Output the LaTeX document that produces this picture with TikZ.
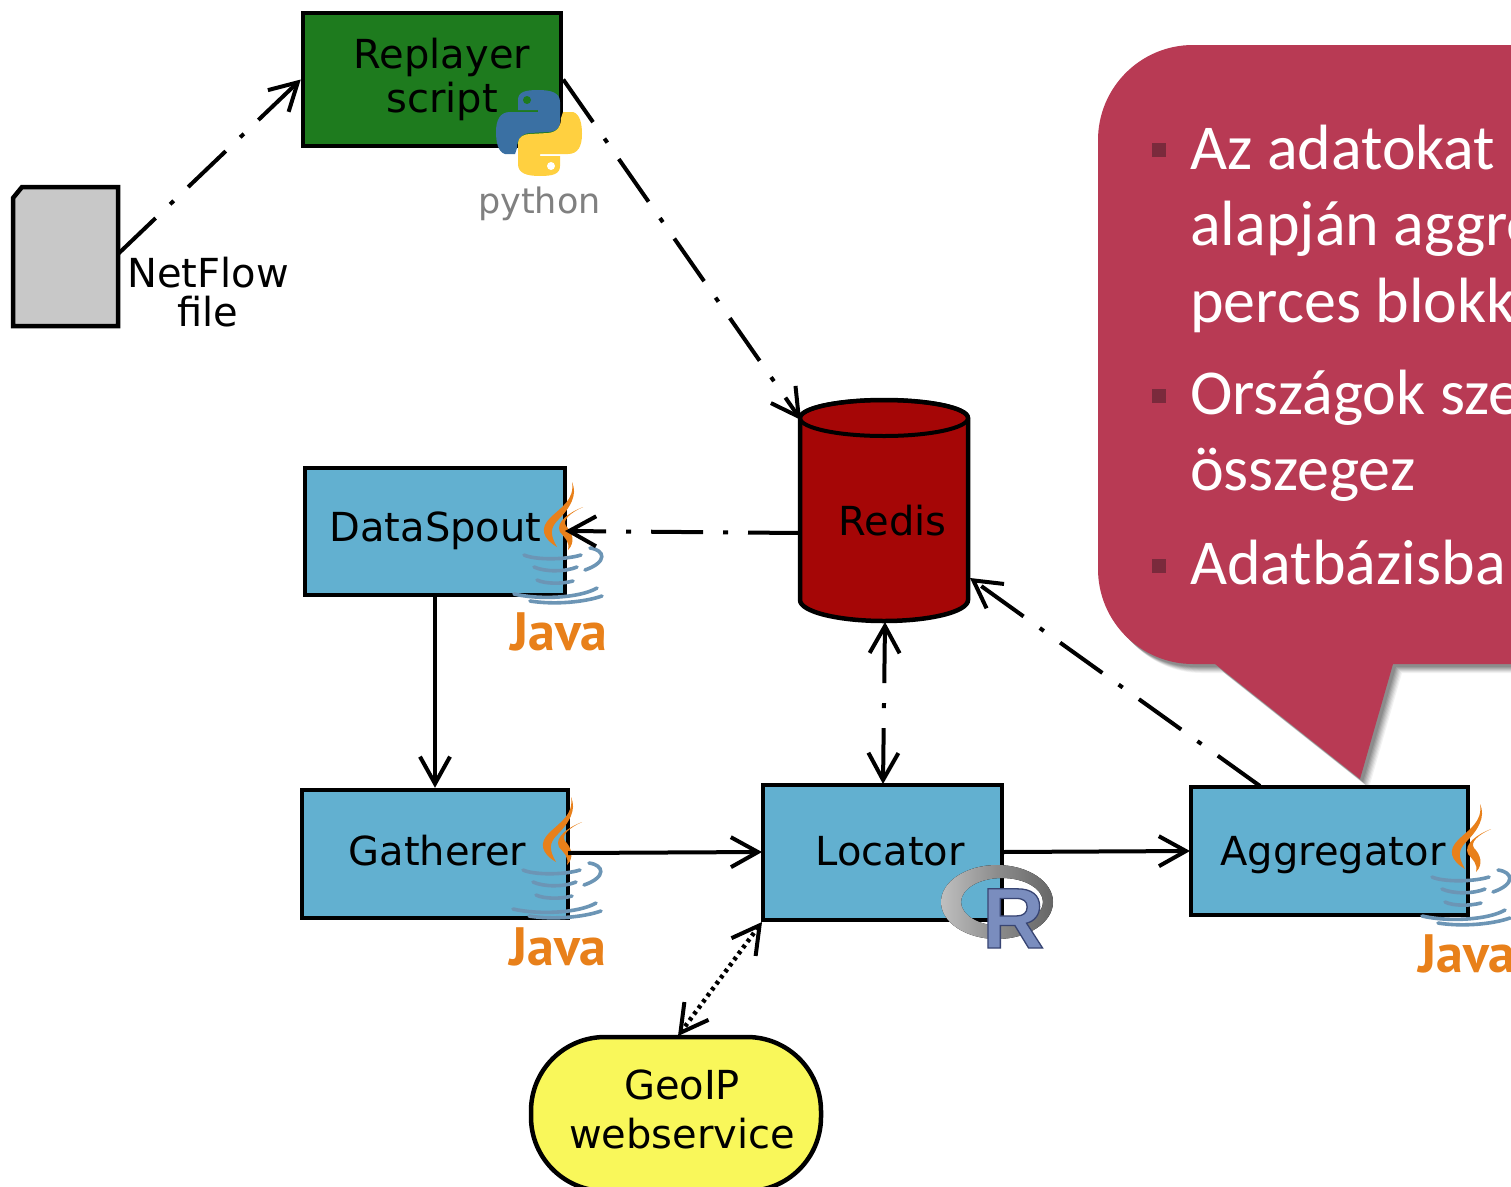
\documentclass[tikz,border=0pt]{standalone}
\usepackage{fontspec}
\setmainfont{DejaVu Sans}
\newfontfamily\calloutfont{Carlito}
\newfontfamily\javafont{PT Sans}
\newfontfamily\rfont{Liberation Sans}
\usetikzlibrary{arrows.meta,calc}
\definecolor{boxblue}{HTML}{62B0D0}
\definecolor{boxgreen}{HTML}{1E7B1E}
\definecolor{dbred}{HTML}{A50606}
\definecolor{geoyellow}{HTML}{F9F75A}
\definecolor{callred}{HTML}{B83A54}
\definecolor{bulletred}{HTML}{7A2A3C}
\definecolor{filegray}{HTML}{C8C8C8}
\definecolor{javaorange}{HTML}{E8801A}
\definecolor{javablue}{HTML}{6C95B5}
\definecolor{pyblue}{HTML}{3A70A3}
\definecolor{pyyellow}{HTML}{FFD040}
\definecolor{rblue}{HTML}{7A8DBE}
\tikzset{
  x=1pt,y=-1pt,
  compbox/.style={draw=black,line width=4.5pt,rectangle,inner sep=0pt},
  lbl/.style={inner sep=0pt,anchor=base,align=center,font=\fontsize{40}{47}\selectfont},
  conn/.style={line width=4pt,draw=black},
  headtip/.style={-{Straight Barb[length=27pt,width=30pt,line width=4pt]}},
  bothtip/.style={{Straight Barb[length=27pt,width=30pt,line width=4pt]}-{Straight Barb[length=27pt,width=30pt,line width=4pt]}},
  dashdot/.style={dash pattern=on 52pt off 20pt on 5pt off 20pt},
  callouttext/.style={inner sep=0pt,anchor=base west,text=white,font=\calloutfont\fontsize{64}{70}\selectfont},
  bullet/.style={fill=bulletred,minimum size=14pt,inner sep=0pt,rectangle},
  javalogo/.pic={
    \fill[javaorange] (82,12) .. controls (85,30) and (70,38) .. (60,48) .. controls (50,58) and (52,68) .. (67,77) .. controls (60,65) and (60,58) .. (68,50) .. controls (80,38) and (88,25) .. (82,12) -- cycle;
    \fill[javaorange] (93,37) .. controls (80,42) and (65,52) .. (70,62) .. controls (75,68) and (80,72) .. (78,80) .. controls (86,72) and (82,62) .. (76,56) .. controls (72,50) and (80,43) .. (93,37) -- cycle;
    \begin{scope}[draw=javablue,line width=3.6pt,line cap=round]
      \draw (34,85) .. controls (45,90) and (75,90) .. (91,85);
      \draw (44,97) .. controls (55,102) and (75,102) .. (87,97);
      \draw (47,110) .. controls (55,114) and (72,114) .. (83,111);
      \draw (24,124) .. controls (50,130) and (90,128) .. (107,118);
      \draw (40,131) .. controls (65,135) and (95,132) .. (112,126);
      \draw (100,78) .. controls (115,80) and (118,92) .. (95,100);
    \end{scope}
    \node[inner sep=0pt,anchor=base west,text=javaorange,font=\javafont\bfseries\fontsize{54}{60}\selectfont] (word) at (20,180) {Java};
  },
  pythonlogo/.pic={
    \fill[pyblue] (78,40) .. controls (78,32) and (85,30) .. (98,30) .. controls (112,30) and (120,33) .. (120,42) -- (120,62) .. controls (120,70) and (113,72) .. (108,72) -- (90,73) .. controls (80,74) and (77,80) .. (77,88) -- (75,94) -- (65,94) .. controls (58,92) and (56,82) .. (56,72) .. controls (56,60) and (60,52) .. (70,52) -- (98,52) -- (98,50) -- (78,50) -- cycle;
    \fill[boxgreen] (87,40) circle[radius=4];
    \fill[pyyellow,rotate around={180:(99,73)}] (78,40) .. controls (78,32) and (85,30) .. (98,30) .. controls (112,30) and (120,33) .. (120,42) -- (120,62) .. controls (120,70) and (113,72) .. (108,72) -- (90,73) .. controls (80,74) and (77,80) .. (77,88) -- (75,94) -- (65,94) .. controls (58,92) and (56,82) .. (56,72) .. controls (56,60) and (60,52) .. (70,52) -- (98,52) -- (98,50) -- (78,50) -- cycle;
    \fill[white] (111,106) circle[radius=4];
    \node[inner sep=0pt,anchor=base west,text=black!50,font=\fontsize{35}{38}\selectfont] (word) at (38,153) {python};
  },
  rlogo/.pic={
    \fill[even odd rule,left color=black!25,right color=black!60,middle color=black!45]
      (77,62) ellipse[x radius=56,y radius=37] (82,62) ellipse[x radius=41,y radius=24];
    \node[inner sep=0pt,anchor=base west,text=rblue,font=\rfont\bfseries\fontsize{86}{90}\selectfont] (letter) at (62,108)
      {\special{pdf:code 2 Tr 1.3 w 0.22 0.27 0.45 RG}R\special{pdf:code 0 Tr}};
  }
}
\newcommand{\calloutshape}{(1193,45) -- (1560,45) -- (1560,664) -- (1393,664) -- (1360,779) -- (1215,664) -- (1193,664) arc[start angle=90,end angle=180,radius=95] -- (1098,140) arc[start angle=180,end angle=270,radius=95] -- cycle}
\begin{document}
\begin{tikzpicture}
\clip (0,0) rectangle (1511,1186);
\useasboundingbox (0,0) rectangle (1511,1186);
\fill[white] (0,0) rectangle (1511,1186);

% NetFlow file
\fill[filegray,draw=black,line width=4.5pt,line join=miter] (13,198) -- (22,187) -- (118,187) -- (118,326) -- (13,326) -- cycle;
\node[minimum width=105pt,minimum height=139pt,inner sep=0pt] (netflow) at (65.5,256.5) {};
\node[lbl] (netflowlbl) at (208,326) {NetFlow\\[-8pt]file};

% boxes
\node[compbox,fill=boxgreen,minimum width=258pt,minimum height=133pt] (replayer) at (432,79.5) {};
\node[lbl,text=black] (replayerlbl) at (442,112) {Replayer\\[-3pt]script};
\node[compbox,fill=boxblue,minimum width=260pt,minimum height=127pt] (dataspout) at (435,531.5) {};
\node[lbl] (dataspoutlbl) at (435.5,541) {DataSpout};
\node[compbox,fill=boxblue,minimum width=266pt,minimum height=128pt] (gatherer) at (435,854) {};
\node[lbl] (gathererlbl) at (437.5,865) {Gatherer};
\node[compbox,fill=boxblue,minimum width=239pt,minimum height=135pt] (locator) at (882.5,852.5) {};
\node[lbl] (locatorlbl) at (890,865) {Locator};
\node[compbox,fill=boxblue,minimum width=277pt,minimum height=128pt] (aggregator) at (1329.5,851) {};
\node[lbl] (aggregatorlbl) at (1333,865) {Aggregator};

% Redis
\fill[dbred,draw=black,line width=4.5pt] (800,418) -- (800,600) arc[start angle=180,end angle=0,x radius=84,y radius=21] -- (968,418) arc[start angle=0,end angle=-180,x radius=84,y radius=18] -- cycle;
\draw[black,line width=4pt] (884,418) ellipse[x radius=84,y radius=18];
\node[minimum width=168pt,minimum height=224pt,inner sep=0pt] (redis) at (884,511) {};
\node[lbl] (redislbl) at (892.5,535) {Redis};

% GeoIP
\node[compbox,fill=geoyellow,minimum width=290pt,minimum height=154pt,rounded corners=74pt] (geoip) at (676,1114) {};
\node[lbl] (geoiplbl) at (682,1148) {GeoIP\\[2pt]webservice};

% logos
\pic (jdata) at (490,470) {javalogo};
\pic (jgath) at (489,785) {javalogo};
\pic (jaggr) at (1398,792) {javalogo};
\pic (py) at (440,60) {pythonlogo};
\pic (rl) at (920,840) {rlogo};

% anchor points on the edge of shapes
\coordinate (redisIn) at (801,420);
\coordinate (redisLeft) at (800,533);
\coordinate (redisRight) at (970,578);
\coordinate (redisBottom) at (885,622);
\coordinate (aggrTop) at (1260,786);
\coordinate (locTop) at (883,784);
\coordinate (locCorner) at (762,922);
\coordinate (geoTop) at (678,1036);
\coordinate (fileEdge) at (118,254);
\coordinate (dsRight) at (565,531);
\coordinate (gaRight) at (568,853);
\coordinate (loLeft) at (762,852);
\coordinate (loRight) at (1002,852);
\coordinate (agLeft) at (1190,851);

% connectors
\draw[conn,headtip,dashdot] (fileEdge) -- (replayer.west);
\draw[conn,headtip,dashdot] (replayer.east) -- (redisIn);
\draw[conn,headtip,dashdot] (redisLeft) -- (dsRight);
\draw[conn,headtip] (dataspout.south) -- (gatherer.north);
\draw[conn,headtip] (gaRight) -- (loLeft);
\draw[conn,headtip] (loRight) -- (agLeft);
\draw[conn,headtip,dashdot] (aggrTop) -- (redisRight);
\draw[conn,bothtip,dash pattern=on 55pt off 20pt on 5pt off 20pt] (redisBottom) -- (locTop);
\draw[line width=4.5pt,draw=black,bothtip,dash pattern=on 3.5pt off 4pt] (locCorner) -- (geoTop);

% callout
\foreach \s/\o in {9/0.05,8/0.06,7/0.07,6/0.08,5/0.09,4/0.1,3/0.1}{
  \fill[black,opacity=\o,shift={(\s,\s)}] \calloutshape;
}
\fill[callred] \calloutshape;
\node[bullet] (b1) at (1159,150) {};
\node[bullet] (b2) at (1159,396) {};
\node[bullet] (b3) at (1159,566) {};
\node[callouttext] (t1) at (1190,169) {Az adatokat};
\node[callouttext] (t2) at (1190,245) {alapján aggre};
\node[callouttext] (t3) at (1190,322) {perces blokk};
\node[callouttext] (t4) at (1190,414) {Országok sze};
\node[callouttext] (t5) at (1190,490) {összegez};
\node[callouttext] (t6) at (1190,584) {Adatbázisba};
\end{tikzpicture}
\end{document}
